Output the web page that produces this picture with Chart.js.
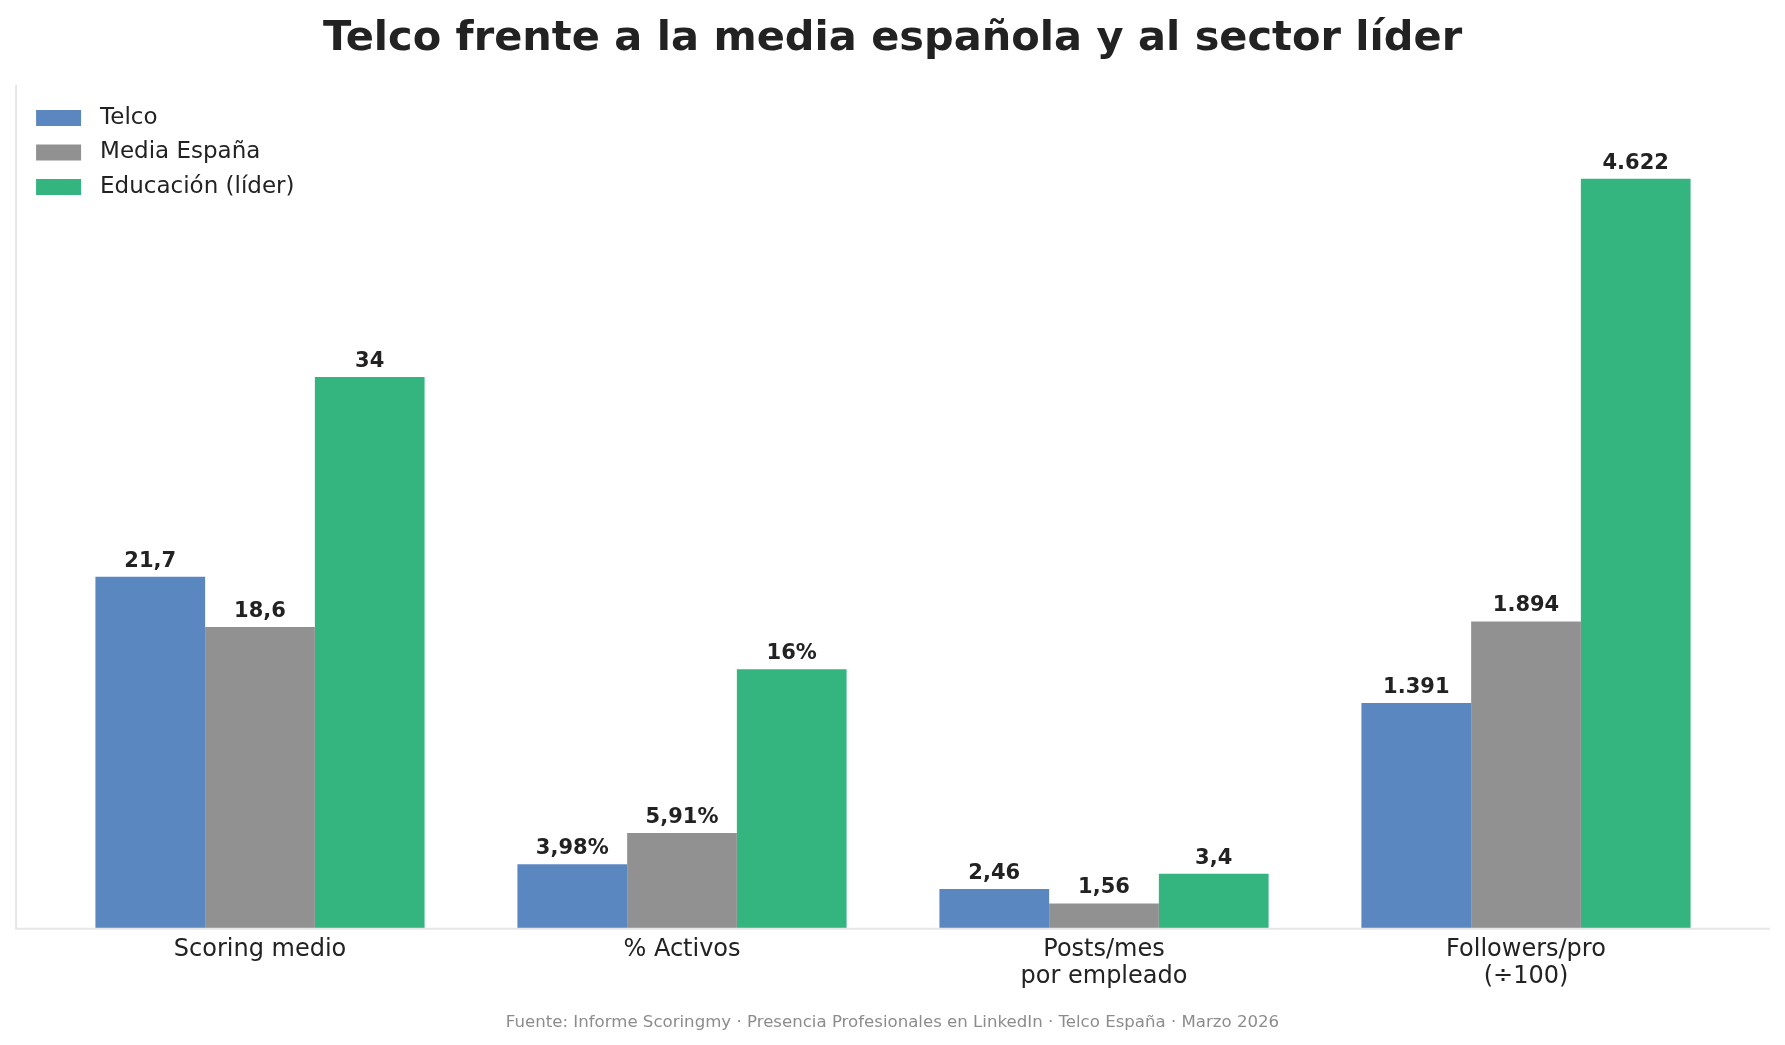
<!DOCTYPE html>
<html>
<head>
<meta charset="utf-8">
<script src="https://cdn.jsdelivr.net/npm/chart.js@4/dist/chart.umd.min.js"></script>
<style>
  html, body { margin: 0; padding: 0; background: #fff; }
  #wrap { width: 1785px; height: 1045px; }
</style>
</head>
<body>
<div id="wrap"><canvas id="telcoChart" width="1785" height="1045"></canvas></div>
<script>
// Categories (multi-line labels)
const categories = [
    'Scoring medio',
    '% Activos',
    ['Posts/mes', 'por empleado'],
    ['Followers/pro', '(÷100)']
];

// Series values (followers are plotted divided by 100)
const telco = [21.7, 3.98, 2.46, 13.91];
const mediaEspana = [18.6, 5.91, 1.56, 18.94];
const educacion = [34, 16, 3.4, 46.22];

// Value labels shown above the bars
const telcoLabels = ['21,7', '3,98%', '2,46', '1.391'];
const mediaLabels = ['18,6', '5,91%', '1,56', '1.894'];
const educacionLabels = ['34', '16%', '3,4', '4.622'];

const FONT = "'DejaVu Sans', sans-serif";
const spineColor = '#e6e6e6';

// Value labels, spines, legend, title and footnote
const decorations = {
    id: 'decorations',
    afterDraw(chart) {
        const ctx = chart.ctx;
        const area = chart.chartArea;
        const catWidth = (area.right - area.left) / categories.length;
        const extra = catWidth * 0.078;

        // spines
        ctx.save();
        ctx.strokeStyle = spineColor;
        ctx.lineWidth = 2;
        ctx.beginPath();
        ctx.moveTo(area.left - extra, area.top);
        ctx.lineTo(area.left - extra, area.bottom);
        ctx.lineTo(area.right + extra, area.bottom);
        ctx.stroke();

        // value labels
        ctx.fillStyle = '#222';
        ctx.font = 'bold 21px ' + FONT;
        ctx.textAlign = 'center';
        ctx.textBaseline = 'bottom';
        chart.data.datasets.forEach((ds, i) => {
            const meta = chart.getDatasetMeta(i);
            meta.data.forEach((bar, j) => {
                ctx.fillText(ds.valueLabels[j], bar.x, bar.y - 5);
            });
        });

        // legend
        ctx.font = '23px ' + FONT;
        ctx.textAlign = 'left';
        ctx.textBaseline = 'middle';
        chart.data.datasets.forEach((ds, i) => {
            const y = area.top + 33 + i * 34.5;
            ctx.fillStyle = ds.backgroundColor;
            ctx.fillRect(area.left - extra + 20, y - 8, 45, 16);
            ctx.fillStyle = '#222';
            ctx.fillText(ds.label, area.left - extra + 84, y);
        });

        // title
        ctx.textAlign = 'center';
        ctx.fillStyle = '#222';
        ctx.font = 'bold 41.5px ' + FONT;
        ctx.fillText('Telco frente a la media española y al sector líder', chart.width / 2, 39);

        // footnote
        ctx.fillStyle = '#8c8c8c';
        ctx.font = '16.6px ' + FONT;
        ctx.fillText('Fuente: Informe Scoringmy · Presencia Profesionales en LinkedIn · Telco España · Marzo 2026', chart.width / 2, 1023);
        ctx.restore();
    }
};

new Chart(document.getElementById('telcoChart'), {
    type: 'bar',
    data: {
        labels: categories,
        datasets: [{
            label: 'Telco',
            data: telco,
            valueLabels: telcoLabels,
            backgroundColor: '#5B87C0'
        }, {
            label: 'Media España',
            data: mediaEspana,
            valueLabels: mediaLabels,
            backgroundColor: '#919191'
        }, {
            label: 'Educación (líder)',
            data: educacion,
            valueLabels: educacionLabels,
            backgroundColor: '#34B47F'
        }]
    },
    options: {
        responsive: false,
        animation: false,
        devicePixelRatio: 1,
        layout: {
            padding: { top: 85, left: 49, right: 48, bottom: 47 }
        },
        datasets: {
            bar: {
                barPercentage: 1,
                categoryPercentage: 0.78,
                borderWidth: 0
            }
        },
        plugins: {
            legend: { display: false },
            title: { display: false },
            tooltip: { enabled: false }
        },
        scales: {
            x: {
                grid: { display: false, drawTicks: false },
                border: { display: false },
                ticks: {
                    color: '#222',
                    padding: 7,
                    font: { family: FONT, size: 24, lineHeight: 1.15 }
                }
            },
            y: {
                display: false,
                min: 0,
                max: 52
            }
        }
    },
    plugins: [decorations]
});
</script>
</body>
</html>
